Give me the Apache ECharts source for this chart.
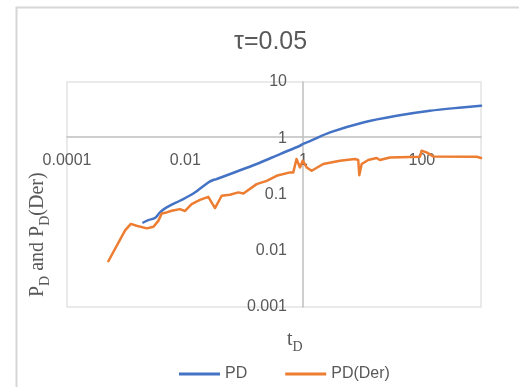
<!DOCTYPE html>
<html>
<head>
<meta charset="utf-8">
<script src="https://cdn.jsdelivr.net/npm/echarts@6/dist/echarts.min.js"></script>
<style>
html,body{margin:0;padding:0;background:#fff;}
#chart{width:519px;height:387px;}
</style>
</head>
<body>
<div id="chart"></div>
<script>
// ---- data ----
const titleText = 'τ=0.05';
const seriesNames = ['PD', 'PD(Der)'];

const pdT = [0.00195, 0.00237, 0.00307, 0.00373, 0.00484, 0.0081, 0.0137, 0.0245, 0.0297, 0.0339, 0.161, 0.4, 0.87, 1.0, 1.28, 2.8, 10.2, 37.5, 137, 471, 1000];
const pdV = [0.0318, 0.0351, 0.0381, 0.048, 0.0589, 0.0774, 0.104, 0.164, 0.181, 0.188, 0.348, 0.524, 0.736, 0.80, 0.89, 1.27, 1.91, 2.51, 3.08, 3.53, 3.8];

const derT = [0.0005, 0.00096, 0.0012, 0.0015, 0.00224, 0.0029, 0.0035, 0.004, 0.00484, 0.0059, 0.0081, 0.0099, 0.0128, 0.0177, 0.0245, 0.0318, 0.0412, 0.0569, 0.079, 0.096, 0.161, 0.238, 0.35, 0.589, 0.67, 0.76, 0.87, 0.966, 1.13, 1.37, 2.15, 4.12, 7.4, 8.4, 8.75, 9.6, 12.4, 17.2, 19.5, 28.8, 93, 99, 120, 155, 850, 1000];
const derV = [0.0065, 0.023, 0.030, 0.0278, 0.025, 0.0267, 0.034, 0.046, 0.048, 0.0514, 0.055, 0.051, 0.0676, 0.08, 0.091, 0.0574, 0.095, 0.099, 0.109, 0.104, 0.153, 0.175, 0.215, 0.247, 0.247, 0.427, 0.303, 0.398, 0.303, 0.264, 0.348, 0.398, 0.427, 0.41, 0.22, 0.348, 0.41, 0.445, 0.41, 0.456, 0.469, 0.6, 0.56, 0.475, 0.469, 0.445];

const xTickValues = [0.0001, 0.01, 1, 100];
const xTickLabels = ['0.0001', '0.01', '1', '100'];
const yTickValues = [0.001, 0.01, 0.1, 1, 10];
const yTickLabels = ['0.001', '0.01', '0.1', '1', '10'];

// ---- chart ----
function labelFor(values, labels) {
  return function (v) {
    for (let i = 0; i < values.length; i++) {
      if (Math.abs(Math.log10(v) - Math.log10(values[i])) < 1e-6) return labels[i];
    }
    return '';
  };
}
const tickFont = { color: '#595959', fontSize: 16, fontFamily: 'Liberation Sans' };
const serif = 'Liberation Serif';

const chart = echarts.init(document.getElementById('chart'), null, { renderer: 'canvas' });
chart.setOption({
  animation: false,
  backgroundColor: '#ffffff',
  title: {
    text: titleText,
    left: 229, top: 25,
    textStyle: { color: '#595959', fontSize: 25, fontWeight: 'normal', fontFamily: 'Liberation Sans' }
  },
  grid: {
    left: 67, top: 82, width: 414, height: 225,
    show: true, borderColor: '#e4e4e4', borderWidth: 1.5, backgroundColor: 'transparent'
  },
  legend: {
    data: seriesNames,
    left: 179, top: 366, padding: 0,
    icon: 'rect',
    itemWidth: 41, itemHeight: 3, itemGap: 38,
    textStyle: { color: '#595959', fontSize: 16, fontFamily: 'Liberation Sans' }
  },
  xAxis: {
    type: 'log', logBase: 10, min: 0.0001, max: 1000,
    position: 'bottom', offset: -170,
    axisLine: { show: true, onZero: false, lineStyle: { color: '#bfbfbf', width: 1.5 } },
    axisTick: { show: false },
    splitLine: { show: false },
    axisLabel: Object.assign({ margin: 16, formatter: labelFor(xTickValues, xTickLabels), showMinLabel: true, showMaxLabel: true }, tickFont)
  },
  yAxis: {
    type: 'log', logBase: 10, min: 0.001, max: 10,
    position: 'left', offset: -236,
    axisLine: { show: true, onZero: false, lineStyle: { color: '#bfbfbf', width: 1.5 } },
    axisTick: { show: false },
    splitLine: { show: false },
    axisLabel: Object.assign({ margin: 16, formatter: labelFor(yTickValues, yTickLabels), showMinLabel: true, showMaxLabel: true }, tickFont)
  },
  graphic: [
    { type: 'rect', left: 14, top: 5, shape: { width: 620, height: 520 }, style: { fill: 'none', stroke: '#d6d6d6', lineWidth: 2 }, silent: true },
    { type: 'text', x: 287, y: 330,
      style: { text: '{a|t}{b|D}', rich: {
        a: { fontSize: 20, fontFamily: serif, fill: '#595959', verticalAlign: 'bottom', padding: [0, 0, 4, 0] },
        b: { fontSize: 14, fontFamily: serif, fill: '#595959', verticalAlign: 'bottom' } } } },
    { type: 'text', x: 28, y: 297, rotation: Math.PI / 2,
      style: { text: '{a|P}{b|D}{a| and P}{b|D}{a|(Der)}', rich: {
        a: { fontSize: 20, fontFamily: serif, fill: '#595959', verticalAlign: 'bottom', padding: [0, 0, 4, 0] },
        b: { fontSize: 14, fontFamily: serif, fill: '#595959', verticalAlign: 'bottom' } } } }
  ],
  series: [
    {
      name: seriesNames[0], type: 'line', symbol: 'none', showSymbol: false, smooth: 0.3,
      data: pdT.map((t, i) => [t, pdV[i]]),
      lineStyle: { color: '#4472C4', width: 2.5, cap: 'round', join: 'round' },
      itemStyle: { color: '#4472C4' }
    },
    {
      name: seriesNames[1], type: 'line', symbol: 'none', showSymbol: false,
      data: derT.map((t, i) => [t, derV[i]]),
      lineStyle: { color: '#ED7D31', width: 2.5, cap: 'round', join: 'round' },
      itemStyle: { color: '#ED7D31' }
    }
  ]
});
</script>
</body>
</html>
